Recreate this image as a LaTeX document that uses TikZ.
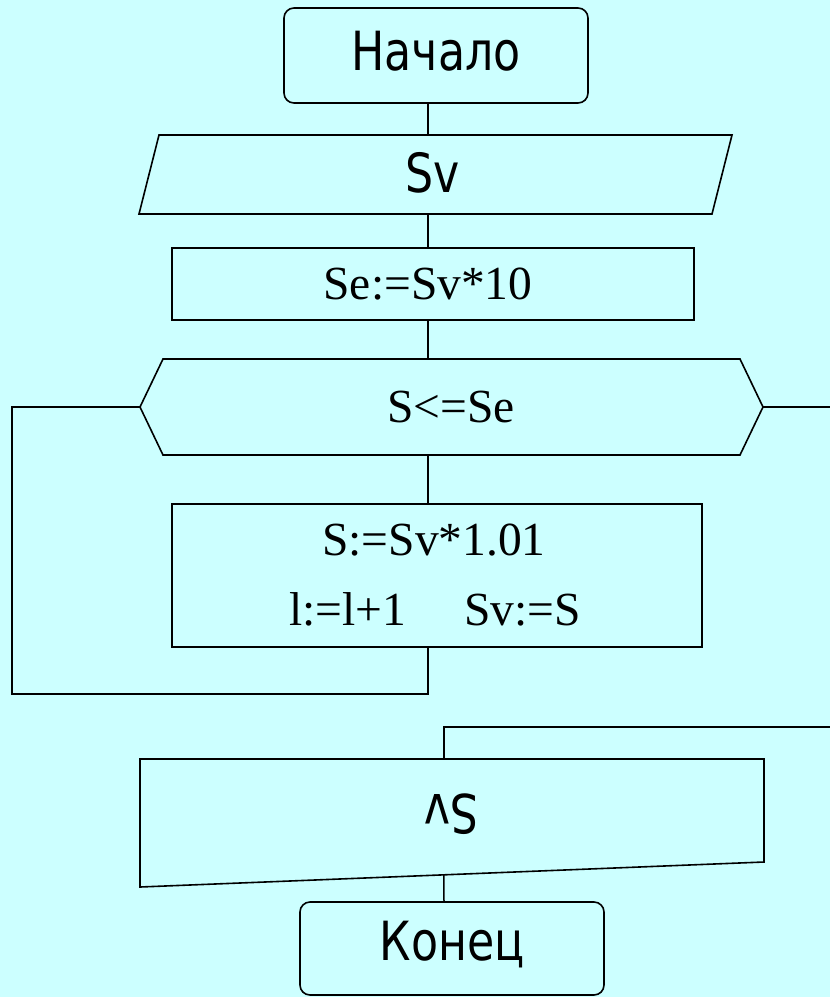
\documentclass[tikz,border=0pt]{standalone}
\usepackage{fontspec}
\setmainfont{Liberation Serif}
\newfontfamily\sansf[FakeStretch=0.82]{DejaVu Sans}
\usetikzlibrary{calc}
\definecolor{bg}{RGB}{204,255,255}
\begin{document}
\begin{tikzpicture}[x=1pt,y=-1pt,
  shapeline/.style={draw=black, line width=1.6pt, line join=miter},
  box/.style={shapeline, inner sep=0pt, rectangle},
  conn/.style={draw=black, line width=1.5pt},
  serif/.style={font=\fontsize{47.5}{50}\selectfont, anchor=base, inner sep=0pt},
  sans/.style={font=\sansf\fontsize{54}{58}\selectfont, anchor=base, inner sep=0pt}]
\fill[bg] (0,0) rectangle (830,997);
\useasboundingbox (0,0) rectangle (830,997);
\coordinate (axis) at (428,0);
\coordinate (axis2) at (444,0);
% start
\node[box, rounded corners=10pt, minimum width=304pt, minimum height=95pt] (start) at (436,55.5) {};
\node[sans] (tstart) at (436,70) {Начало};
% input parallelogram
\draw[shapeline] (159,135) coordinate (inA) -- (732,135) coordinate (inB) -- (712,214) coordinate (inC) -- (139,214) coordinate (inD) -- cycle;
\node[sans] (tin) at (433,192) {Sv};
% init
\node[box, minimum width=522pt, minimum height=72pt] (init) at (433,284) {};
\node[serif] (tinit) at (428,299) {Se:=Sv*10};
% hexagon
\draw[shapeline] (140,407) coordinate (hl) -- (163,359) coordinate (htl) -- (740,359) coordinate (htr) -- (763,407) coordinate (hr) -- (740,455) coordinate (hbr) -- (163,455) coordinate (hbl) -- cycle;
\node[serif] (tcond) at (451,422) {S<=Se};
% process
\node[box, minimum width=530pt, minimum height=143pt] (proc) at (437,575.5) {};
\node[serif] (tp1) at (434,555) {S:=Sv*1.01};
\node[serif] (tp2) at (435,625) {l:=l+1\hspace{58pt}Sv:=S};
% output document
\draw[shapeline] (140,759) coordinate (dtl) -- (764,759) coordinate (dtr) -- (764,862) coordinate (dbr) -- (140,887) coordinate (dbl) -- cycle;
\coordinate (dbm) at ($(dbl)!0.487!(dbr)$);
\node[sans, rotate=180] (tout) at (451,794) {Sv};
% end
\node[box, rounded corners=10pt, minimum width=304pt, minimum height=93pt] (end) at (452,948.5) {};
\node[sans] (tend) at (452,960) {Конец};
% free ends
\coordinate (exitR) at (830,407);
\coordinate (exitR2) at (830,727);
\coordinate (loopL) at (12,694);
% connectors
\draw[conn] (start.south -| axis) -- (inA -| axis);
\draw[conn] (inD -| axis) -- (init.north -| axis);
\draw[conn] (init.south -| axis) -- (htl -| axis);
\draw[conn] (hbl -| axis) -- (proc.north -| axis);
\draw[conn] (hl) -| (loopL) -| (proc.south -| axis);
\draw[conn] (hr) -- (exitR);
\draw[conn] (exitR2) -| (dtl -| axis2);
\draw[conn] (dbm) -- (end.north -| axis2);
\end{tikzpicture}
\end{document}
